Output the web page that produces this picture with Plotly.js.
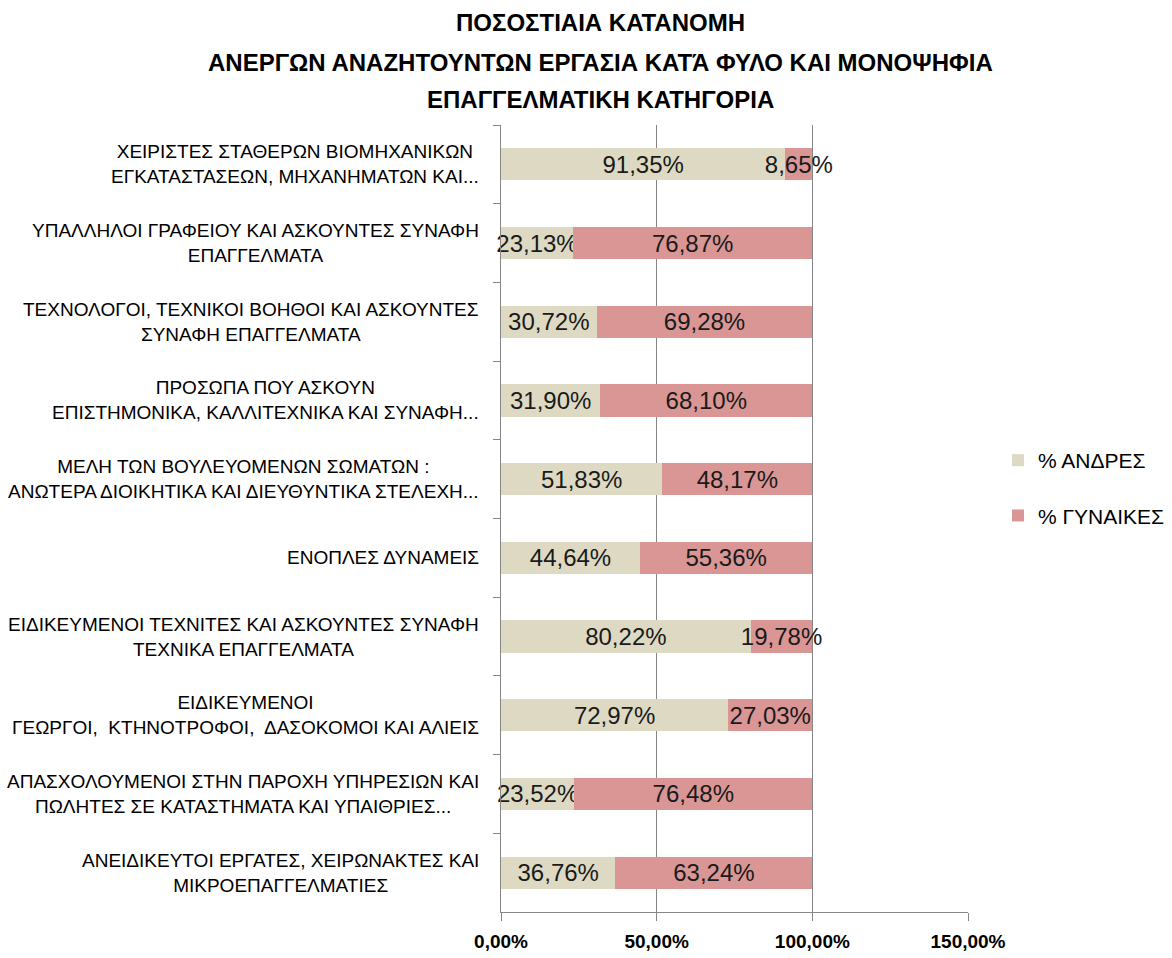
<!DOCTYPE html>
<html>
<head>
<meta charset="utf-8">
<script src="https://cdn.plot.ly/plotly-3.0.1.min.js"></script>
<style>html,body{margin:0;padding:0;background:#fff;}#chart{width:1172px;height:958px;}</style>
</head>
<body>
<div id="chart"></div>
<script>
var categories = [
  "ΧΕΙΡΙΣΤΕΣ ΣΤΑΘΕΡΩΝ ΒΙΟΜΗΧΑΝΙΚΩΝ<br>ΕΓΚΑΤΑΣΤΑΣΕΩΝ, ΜΗΧΑΝΗΜΑΤΩΝ ΚΑΙ...",
  "ΥΠΑΛΛΗΛΟΙ ΓΡΑΦΕΙΟΥ ΚΑΙ ΑΣΚΟΥΝΤΕΣ ΣΥΝΑΦΗ<br>ΕΠΑΓΓΕΛΜΑΤΑ",
  "ΤΕΧΝΟΛΟΓΟΙ, ΤΕΧΝΙΚΟΙ ΒΟΗΘΟΙ ΚΑΙ ΑΣΚΟΥΝΤΕΣ<br>ΣΥΝΑΦΗ ΕΠΑΓΓΕΛΜΑΤΑ",
  "ΠΡΟΣΩΠΑ ΠΟΥ ΑΣΚΟΥΝ<br>ΕΠΙΣΤΗΜΟΝΙΚΑ, ΚΑΛΛΙΤΕΧΝΙΚΑ ΚΑΙ ΣΥΝΑΦΗ...",
  "ΜΕΛΗ ΤΩΝ ΒΟΥΛΕΥΟΜΕΝΩΝ ΣΩΜΑΤΩΝ :<br>ΑΝΩΤΕΡΑ ΔΙΟΙΚΗΤΙΚΑ ΚΑΙ ΔΙΕΥΘΥΝΤΙΚΑ ΣΤΕΛΕΧΗ...",
  "ΕΝΟΠΛΕΣ ΔΥΝΑΜΕΙΣ",
  "ΕΙΔΙΚΕΥΜΕΝΟΙ ΤΕΧΝΙΤΕΣ ΚΑΙ ΑΣΚΟΥΝΤΕΣ ΣΥΝΑΦΗ<br>ΤΕΧΝΙΚΑ ΕΠΑΓΓΕΛΜΑΤΑ",
  "ΕΙΔΙΚΕΥΜΕΝΟΙ<br>ΓΕΩΡΓΟΙ,  ΚΤΗΝΟΤΡΟΦΟΙ,  ΔΑΣΟΚΟΜΟΙ ΚΑΙ ΑΛΙΕΙΣ",
  "ΑΠΑΣΧΟΛΟΥΜΕΝΟΙ ΣΤΗΝ ΠΑΡΟΧΗ ΥΠΗΡΕΣΙΩΝ ΚΑΙ<br>ΠΩΛΗΤΕΣ ΣΕ ΚΑΤΑΣΤΗΜΑΤΑ ΚΑΙ ΥΠΑΙΘΡΙΕΣ...",
  "ΑΝΕΙΔΙΚΕΥΤΟΙ ΕΡΓΑΤΕΣ, ΧΕΙΡΩΝΑΚΤΕΣ ΚΑΙ<br>ΜΙΚΡΟΕΠΑΓΓΕΛΜΑΤΙΕΣ"
];
var men   = [91.35, 23.13, 30.72, 31.90, 51.83, 44.64, 80.22, 72.97, 23.52, 36.76];
var women = [8.65, 76.87, 69.28, 68.10, 48.17, 55.36, 19.78, 27.03, 76.48, 63.24];
var seriesNames = ["% ΑΝΔΡΕΣ", "% ΓΥΝΑΙΚΕΣ"];
var tickValues = [0, 50, 100, 150];
var tickLabels = ["0,00%", "50,00%", "100,00%", "150,00%"];
var titleLines = [
  "ΠΟΣΟΣΤΙΑΙΑ ΚΑΤΑΝΟΜΗ",
  "ΑΝΕΡΓΩΝ ΑΝΑΖΗΤΟΥΝΤΩΝ ΕΡΓΑΣΙΑ ΚΑΤΆ ΦΥΛΟ ΚΑΙ ΜΟΝΟΨΗΦΙΑ",
  "ΕΠΑΓΓΕΛΜΑΤΙΚΗ ΚΑΤΗΓΟΡΙΑ"
];

var FONT = "'Liberation Sans', Arial, sans-serif";

function barTrace(vals, name, color, group) {
  return {
    type: 'bar', orientation: 'h', y: categories, x: vals, name: name,
    legendgroup: group,
    marker: {color: color, line: {width: 0}},
    texttemplate: '%{x:.2f}%', textposition: 'inside', insidetextanchor: 'middle',
    textangle: 0, constraintext: 'none', cliponaxis: false,
    textfont: {family: FONT, size: 24, color: '#1a1a1a'},
    hoverinfo: 'x+name'
  };
}

var data = [
  barTrace(men, seriesNames[0], '#DDD9C3', 'g1'),
  barTrace(women, seriesNames[1], '#D99694', 'g2')
];

var annotations = [];
var titleY = [22, 62, 100];
titleLines.forEach(function(t, i) {
  annotations.push({
    text: t, xref: 'paper', yref: 'paper', x: (600 - 501) / 467,
    y: 1 + (125 - titleY[i]) / 787, xanchor: 'center', yanchor: 'middle',
    showarrow: false, font: {family: FONT, size: 24, color: '#000', weight: 'bold'}
  });
});
categories.forEach(function(c) {
  annotations.push({
    text: c, xref: 'paper', yref: 'y', x: 0, y: c, xanchor: 'right', xshift: -20,
    align: 'center', yanchor: 'middle', showarrow: false,
    font: {family: FONT, size: 19, color: '#000'}
  });
});

var layout = {
  width: 1172, height: 958,
  margin: {l: 501, r: 204, t: 125, b: 46, autoexpand: false},
  paper_bgcolor: '#fff', plot_bgcolor: '#fff',
  barmode: 'stack', bargap: 0.59,
  separators: ',.',
  showlegend: true,
  legend: {
    x: (998 - 501) / 467, xanchor: 'left', y: (912 - 488) / 787, yanchor: 'middle',
    traceorder: 'grouped', tracegroupgap: 25,
    font: {family: FONT, size: 21, color: '#000'},
    bgcolor: 'rgba(0,0,0,0)'
  },
  xaxis: {
    range: [0, 150], tickvals: tickValues, ticktext: tickLabels,
    showgrid: true, gridcolor: '#868686', gridwidth: 1,
    showline: true, linecolor: '#868686', linewidth: 1,
    ticks: 'outside', ticklen: 8, tickcolor: '#868686',
    ticklabelstandoff: 4,
    zeroline: false,
    tickfont: {family: FONT, size: 19, color: '#000', weight: 'bold'}
  },
  yaxis: {
    type: 'category', autorange: 'reversed',
    showticklabels: false, tickson: 'boundaries',
    ticks: 'outside', ticklen: 7, tickcolor: '#868686',
    showline: true, linecolor: '#868686', linewidth: 1,
    showgrid: false, zeroline: false
  },
  annotations: annotations
};

Plotly.newPlot('chart', data, layout, {displayModeBar: false, responsive: false});
</script>
</body>
</html>
